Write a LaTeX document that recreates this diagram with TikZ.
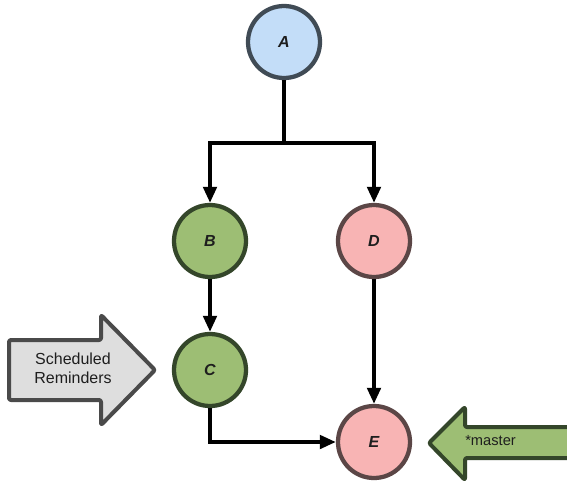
\documentclass[tikz,border=0pt]{standalone}
\usepackage{fontspec}
\setmainfont{Liberation Sans}
\usetikzlibrary{arrows.meta,shadows}
\definecolor{bluefill}{HTML}{C3DDF8}
\definecolor{blueline}{HTML}{404B55}
\definecolor{greenfill}{HTML}{9DBE74}
\definecolor{greenline}{HTML}{34462A}
\definecolor{pinkfill}{HTML}{F8B4B4}
\definecolor{pinkline}{HTML}{5B4646}
\definecolor{grayfill}{HTML}{DEDEDE}
\definecolor{grayline}{HTML}{4A4A4A}
\definecolor{txt}{HTML}{1E1E1E}
\tikzset{
  commit/.style={circle, line width=3.2pt, minimum size=54pt, inner sep=0pt,
    font=\fontsize{12}{14}\selectfont\bfseries\itshape, text=txt,
    drop shadow={opacity=0.35, shadow xshift=0.8pt, shadow yshift=-1.2pt}},
  bluec/.style={commit, draw=blueline, fill=bluefill},
  greenc/.style={commit, draw=greenline, fill=greenfill},
  pinkc/.style={commit, draw=pinkline, fill=pinkfill},
  conn/.style={line width=2.8pt, black, -{Triangle[width=10pt,length=12pt]}},
  bigarrow/.style={line width=3pt, rounded corners=1.5pt, line join=round,
    drop shadow={opacity=0.35, shadow xshift=0.8pt, shadow yshift=-1.2pt}},
  label/.style={text=txt, align=center, inner sep=0pt}
}
\begin{document}
\begin{tikzpicture}[x=0.75pt, y=-0.75pt]
\useasboundingbox (0,0) rectangle (567,483);
\fill[white] (0,0) rectangle (567,483);
% commits
\node[bluec]  (A) at (284,42)  {A};
\node[greenc] (B) at (210,241) {B};
\node[pinkc]  (D) at (374,241) {D};
\node[greenc] (C) at (210,370) {C};
\node[pinkc]  (E) at (374,442) {E};
% connectors
\coordinate (j) at (284,143);
\draw[line width=2.8pt] (A.south) -- (j);
\draw[conn] (j) -| (B.north);
\draw[conn] (j) -| (D.north);
\draw[conn] (B) -- (C);
\draw[conn] (D) -- (E);
\draw[conn] (C.south) |- (E.west);
% Scheduled Reminders arrow
\draw[bigarrow, draw=grayline, fill=grayfill]
  (9,340) -- (101,340) -- (101,315) -- (155,370) -- (101,425) -- (101,400) -- (9,400) -- cycle;
\node[label, font=\fontsize{12}{14}\selectfont] (sr) at (73,368) {Scheduled\\Reminders};
% master arrow
\begin{scope}
\clip (0,0) rectangle (567,483);
\draw[bigarrow, draw=greenline, fill=greenfill]
  (580,427) -- (465,427) -- (465,407) -- (429,443) -- (465,480) -- (465,458) -- (580,458) -- cycle;
\end{scope}
\node[label, font=\fontsize{11}{13}\selectfont, anchor=west] (m) at (465,441) {*master};
\end{tikzpicture}
\end{document}
